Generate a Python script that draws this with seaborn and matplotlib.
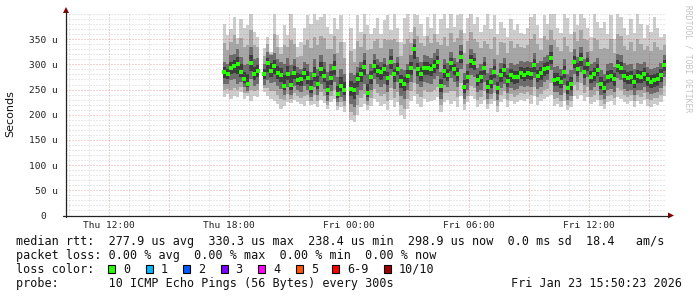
import numpy as np
import pandas as pd
import matplotlib
matplotlib.use("Agg")
import matplotlib.pyplot as plt
import seaborn as sns
from matplotlib.patches import Polygon, Rectangle
from matplotlib.lines import Line2D

nan = float("nan")

# ---------------- data (microseconds), 10-minute samples from Thu 17:40 ----------------
start_hour = 17 + 40 / 60          # hours since Thu 00:00
step_hours = 10 / 60

median_us = [
    284, 281, 292, 297, 300, 285, 270, 262, 303, 280, 287, nan, 280, 302, 287, 297, 282, 279, 258, 281, 259, 283,
    269, 270, 282, 273, 253, 279, 262, 290, 277, 249, 272, 293, 241, 258, 249, nan, 251, 249, 270, 280, 294, 244, 274,
    297, 287, 284, 290, 272, 305, 280, 291, 267, 262, 277, 292, 330, 290, 280, 292, 292, 290, 297, 304, 257, 287, 279,
    302, 291, 280, 315, 255, 275, 306, 302, 268, 275, 293, 255, 266, 285, 253, 278, 288, 267, 278, 274, 275, 282,
    279, 282, 281, 298, 277, 282, 290, 293, 313, 269, 270, 265, 285, 253, 262, 305, 290, 310, 285, 300, 275, 280, 289,
    262, 253, 275, 277, 270, 296, 293, 277, 273, 274, 266, 276, 275, 280, 270, 266, 268, 270, 278, 298,
]
outer_hi_us = [
    381, 358, 371, 395, 352, 391, 372, 378, 400, 365, 355, nan, 332, 355, 325, 400, 358, 335, 378, 358, 400, 372,
    335, 345, 372, 398, 380, 400, 388, 395, 400, 375, 360, 392, 370, 398, 345, nan, 372, 330, 398, 365, 400, 378, 360,
    372, 392, 360, 388, 398, 368, 400, 372, 345, 392, 400, 365, 400, 398, 380, 356, 395, 372, 400, 360, 390, 400, 372,
    400, 375, 398, 400, 362, 392, 400, 380, 395, 365, 378, 400, 370, 398, 360, 385, 372, 355, 390, 368, 380, 362,
    360, 372, 395, 400, 378, 352, 398, 380, 400, 400, 372, 362, 400, 392, 360, 400, 378, 400, 392, 372, 355, 400, 385,
    372, 385, 360, 398, 350, 400, 395, 372, 358, 390, 362, 400, 380, 352, 378, 365, 395, 372, 355, 360,
]
outer_lo_us = [
    236, 242, 232, 238, 235, 246, 232, 238, 228, 238, 235, nan, 246, 238, 232, 228, 222, 212, 218, 226, 224, 230,
    226, 222, 218, 228, 220, 222, 215, 230, 224, 212, 225, 232, 210, 215, 205, nan, 190, 185, 200, 215, 222, 210, 218,
    232, 225, 218, 222, 210, 230, 215, 225, 200, 192, 212, 228, 238, 222, 215, 232, 225, 228, 230, 235, 205, 225, 230,
    222, 228, 215, 238, 210, 225, 238, 232, 215, 222, 230, 212, 222, 228, 205, 225, 232, 215, 228, 222, 226, 230,
    228, 232, 222, 238, 220, 228, 232, 235, 240, 218, 222, 215, 228, 210, 215, 238, 232, 240, 228, 235, 222, 225, 230,
    218, 212, 225, 228, 220, 235, 232, 225, 222, 228, 215, 228, 222, 230, 218, 215, 222, 220, 225, 238,
]
inner_hi_us = [
    305, 300, 318, 320, 330, 315, 298, 300, 335, 310, 312, nan, 300, 325, 318, 322, 310, 305, 300, 312, 298, 310,
    295, 290, 305, 300, 285, 310, 290, 318, 305, 285, 300, 320, 275, 290, 280, nan, 282, 278, 295, 305, 322, 280, 300,
    320, 310, 305, 312, 298, 330, 302, 315, 290, 288, 300, 318, 350, 315, 305, 318, 316, 312, 322, 330, 285, 310, 302,
    325, 312, 305, 338, 282, 300, 330, 322, 292, 300, 315, 282, 292, 310, 278, 302, 312, 292, 302, 298, 300, 306,
    305, 306, 305, 322, 302, 306, 315, 318, 338, 295, 296, 290, 310, 280, 288, 330, 315, 335, 310, 325, 300, 305, 312,
    288, 280, 300, 302, 295, 320, 318, 302, 298, 300, 290, 302, 300, 305, 295, 290, 292, 295, 302, 318,
]
inner_lo_us = [
    262, 262, 268, 270, 262, 266, 255, 248, 270, 258, 262, nan, 260, 268, 264, 266, 258, 252, 240, 255, 240, 258,
    250, 245, 258, 250, 235, 255, 240, 262, 252, 228, 248, 265, 225, 235, 228, nan, 222, 215, 240, 250, 262, 228, 250,
    270, 262, 255, 262, 245, 278, 252, 265, 238, 232, 250, 265, 290, 262, 255, 265, 264, 262, 270, 276, 232, 260, 255,
    272, 265, 255, 290, 232, 250, 278, 275, 245, 250, 266, 232, 242, 260, 230, 254, 262, 244, 254, 250, 252, 258,
    255, 258, 256, 272, 252, 256, 265, 268, 288, 245, 246, 240, 260, 230, 238, 280, 265, 285, 260, 275, 250, 255, 264,
    240, 232, 250, 252, 246, 272, 268, 252, 248, 250, 240, 250, 250, 255, 245, 242, 244, 246, 254, 275,
]

x_tick_hours = [12, 18, 24, 30, 36]
x_tick_labels = ["Thu 12:00", "Thu 18:00", "Fri 00:00", "Fri 06:00", "Fri 12:00"]
y_tick_values = [0, 50, 100, 150, 200, 250, 300, 350]
y_tick_labels = ["0  ", "50 u", "100 u", "150 u", "200 u", "250 u", "300 u", "350 u"]

stats_line = "median rtt:  277.9 us avg  330.3 us max  238.4 us min  298.9 us now  0.0 ms sd  18.4   am/s"
loss_line = "packet loss: 0.00 % avg  0.00 % max  0.00 % min  0.00 % now"
loss_labels = ["0", "1", "2", "3", "4", "5", "6-9", "10/10"]
loss_colors = ["#26ff00", "#00b8ff", "#0059ff", "#7e00ff", "#ff00ff", "#ff5500", "#ff0000", "#a10000"]
probe_line = "probe:       10 ICMP Echo Pings (56 Bytes) every 300s"
stamp = "Fri Jan 23 15:50:23 2026"

# ---------------- figure ----------------
sns.set_style("white")
plt.rcParams["font.family"] = ["DejaVu Sans Mono", "DejaVu Sans"]

W, H = 697, 297
fig = plt.figure(figsize=(W / 100, H / 100), dpi=100)
fig.patch.set_facecolor("white")

def fx(px):
    return px / W

def fy(py):
    return 1 - py / H

ax_left, ax_right, ax_top, ax_bot = 66, 666, 14, 215.5
ax = fig.add_axes([fx(ax_left), fy(ax_bot), (ax_right - ax_left) / W, (ax_bot - ax_top) / H])
ax.set_facecolor("white")

t = start_hour + step_hours * np.arange(len(median_us))
df = pd.DataFrame({
    "t": t,
    "tc": t + step_hours / 2,
    "median": median_us,
    "ohi": outer_hi_us,
    "olo": outer_lo_us,
    "ihi": inner_hi_us,
    "ilo": inner_lo_us,
})
ok = df.dropna()

# smoke: graded shades from the outer ping range towards the median
mid_hi = (ok["ohi"] + ok["ihi"]) / 2
mid_lo = (ok["olo"] + ok["ilo"]) / 2
core_hi = (ok["ihi"] + ok["median"]) / 2
core_lo = (ok["ilo"] + ok["median"]) / 2
bands = [
    (ok["olo"], ok["ohi"], "#cdcdcd"),
    (mid_lo, mid_hi, "#a6a6a6"),
    (ok["ilo"], ok["ihi"], "#6c6c6c"),
    (core_lo, core_hi, "#3c3c3c"),
]
for z, (lo, hi, col) in enumerate(bands):
    ax.bar(ok["t"], hi - lo, bottom=lo, width=step_hours, align="edge",
           color=col, linewidth=0, zorder=1 + z * 0.1)
sns.scatterplot(data=ok, x="tc", y="median", marker="s", s=7, color="#26ff00",
                linewidth=0, ax=ax, zorder=5)

ax.set_xlim(9 + 50.4 / 60, 39 + 50.4 / 60)
ax.set_ylim(0, 400)

major_x = np.arange(12, 40, 3)
ax.set_xticks(major_x)
ax.set_xticklabels([x_tick_labels[x_tick_hours.index(h)] if h in x_tick_hours else "" for h in major_x])
ax.set_xticks(np.arange(10, 40, 1), minor=True)
ax.set_yticks(y_tick_values)
ax.set_yticklabels(y_tick_labels)
ax.set_yticks(np.arange(0, 401, 10), minor=True)
ax.set_xlabel("")
ax.set_ylabel("")

ax.grid(which="minor", color="#8c8c8c", alpha=0.4, linestyle=(0, (1, 2)), linewidth=0.72, zorder=3)
ax.grid(which="major", color="#c81e1e", alpha=0.4, linestyle=(0, (1, 2)), linewidth=0.72, zorder=4)
ax.set_axisbelow(False)

for s in ax.spines.values():
    s.set_visible(False)

ax.tick_params(axis="y", which="major", direction="out", length=3, width=0.7, color="#222222",
               pad=2.9, labelsize=6.8, labelcolor="#222222")
ax.tick_params(axis="y", which="minor", direction="out", length=2, width=0.7, color="#222222")
ax.tick_params(axis="x", which="major", direction="inout", length=4, width=0.7, color="#222222",
               pad=1.8, labelsize=6.8, labelcolor="#222222")
ax.tick_params(axis="x", which="minor", direction="inout", length=3, width=0.7, color="#222222")
for lab in ax.get_yticklabels() + ax.get_xticklabels():
    lab.set_family("DejaVu Sans Mono")

# axes lines with arrows
axis_col = "#222222"
arrow_col = "#8b0000"
fig.add_artist(Line2D([fx(ax_left), fx(ax_left)], [fy(ax_bot + 1), fy(11)], color=axis_col, lw=0.9))
fig.add_artist(Line2D([fx(63), fx(669)], [fy(ax_bot), fy(ax_bot)], color=axis_col, lw=0.9))
fig.add_artist(Polygon([[fx(63), fy(13)], [fx(69), fy(13)], [fx(66), fy(7)]], closed=True,
                       transform=fig.transFigure, color=arrow_col, lw=0))
fig.add_artist(Polygon([[fx(668), fy(ax_bot - 3)], [fx(668), fy(ax_bot + 3)], [fx(674), fy(ax_bot)]],
                       closed=True, transform=fig.transFigure, color=arrow_col, lw=0))

# y label
fig.text(fx(10), fy(114), "Seconds", rotation=90, ha="center", va="center", fontsize=8,
         family="DejaVu Sans", color="#111111")

# watermark
fig.text(fx(688), fy(5), "RRDTOOL / TOBI OETIKER", rotation=270, ha="center", va="top",
         fontsize=5.8, color="#c4c4c4", family="DejaVu Sans Mono")

# legend block
fs = 8.5
tc = "#111111"
fig.text(fx(16), fy(241.3), stats_line, ha="left", va="center", fontsize=fs, color=tc)
fig.text(fx(16), fy(255.3), loss_line, ha="left", va="center", fontsize=fs, color=tc)
fig.text(fx(16), fy(269.3), "loss color:", ha="left", va="center", fontsize=fs, color=tc)
box_left = [108, 145.5, 183, 220.5, 258, 296, 332, 384]
for bx, lab, col in zip(box_left, loss_labels, loss_colors):
    fig.add_artist(Rectangle((fx(bx), fy(273)), 7 / W, 8 / H, transform=fig.transFigure,
                             facecolor=col, edgecolor="black", lw=0.8))
    fig.text(fx(bx + 15), fy(269.3), lab, ha="left", va="center", fontsize=fs, color=tc)
fig.text(fx(16), fy(283.3), probe_line, ha="left", va="center", fontsize=fs, color=tc)
fig.text(fx(682), fy(283.3), stamp, ha="right", va="center", fontsize=fs, color=tc)

fig.savefig("out.png", dpi=100)
